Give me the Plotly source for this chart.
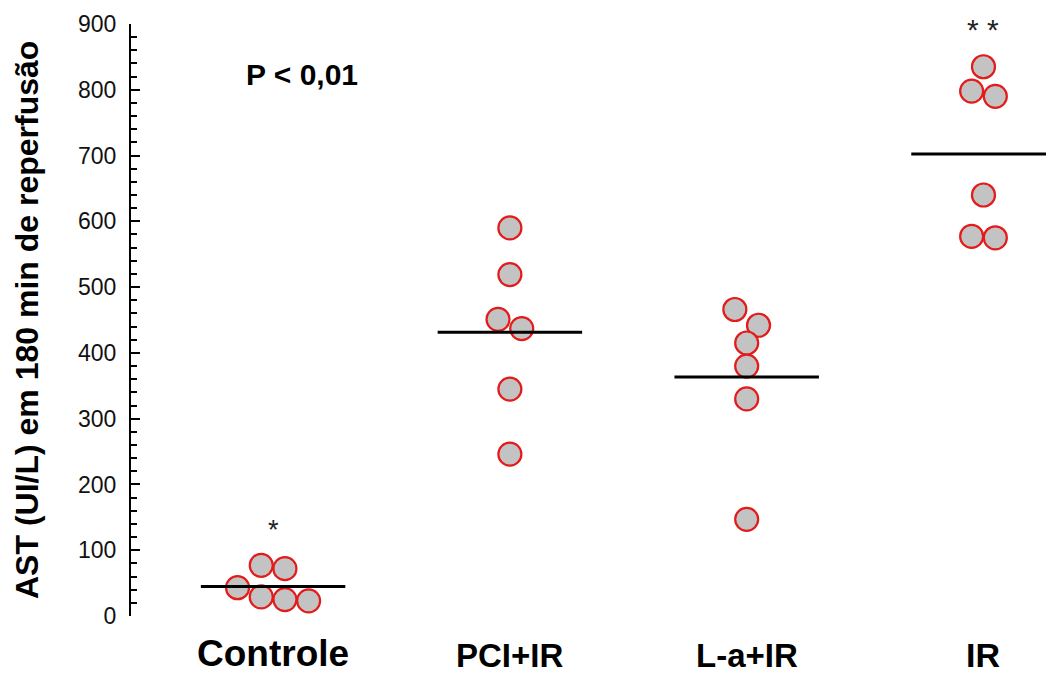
import numpy as np
import plotly.graph_objects as go

# Groups and serum AST values (UI/L) after 180 min of reperfusion
categories = ["Controle", "PCI+IR", "L-a+IR", "IR"]
controle = [43, 77, 72, 29, 25, 23]
pci_ir = [590, 519, 451, 437, 345, 246]
la_ir = [466, 442, 415, 380, 330, 147]
ir = [835, 798, 790, 640, 577, 575]
groups = [controle, pci_ir, la_ir, ir]

# Horizontal spread of overlapping points within each group (category units)
spread = [
    [-0.15, -0.05, 0.05, -0.05, 0.05, 0.15],
    [0, 0, -0.05, 0.05, 0, 0],
    [-0.05, 0.05, 0, 0, 0, 0],
    [0, -0.05, 0.05, 0, -0.05, 0.05],
]

# Significance marks per group
significance = ["*", "", "", "* *"]
p_text = "P < 0,01"
y_ticks = list(range(0, 901, 100))

FONT = "Liberation Sans, Arial, sans-serif"
POINT_FILL = "#c3c3c3"
POINT_EDGE = "#e31b1b"

fig = go.Figure()

for i, vals in enumerate(groups):
    xs = [i + d for d in spread[i]]
    fig.add_trace(go.Scatter(
        x=xs, y=vals, mode="markers",
        marker=dict(size=23, color=POINT_FILL,
                    line=dict(color=POINT_EDGE, width=2.2)),
        cliponaxis=False, showlegend=False, hoverinfo="y",
    ))

# Group means drawn as horizontal bars
for i, vals in enumerate(groups):
    m = float(np.mean(vals))
    fig.add_trace(go.Scatter(
        x=[i - 0.305, i + 0.305], y=[m, m], mode="lines",
        line=dict(color="black", width=3),
        showlegend=False, hoverinfo="y",
    ))

annotations = []

# Category labels under the axis (box bottom kept just inside the page)
label_sizes = [37, 33, 33, 34]
for i, name in enumerate(categories):
    annotations.append(dict(
        x=i, y=0, xref="x", yref="paper", text=f"<b>{name}</b>",
        showarrow=False, xanchor="center", yanchor="bottom",
        yshift=-60,
        font=dict(family=FONT, size=label_sizes[i], color="black"),
    ))

# Significance asterisks above groups
sig_y = [130, None, None, 892]
sig_size = [27, 0, 0, 30]
for i, s in enumerate(significance):
    if s:
        annotations.append(dict(
            x=i, y=sig_y[i], xref="x", yref="y", text=s,
            showarrow=False, xanchor="center", yanchor="middle",
            font=dict(family=FONT, size=sig_size[i], color="#222222"),
        ))

annotations.append(dict(
    x=0.121, y=823, xref="x", yref="y", text=f"<b>{p_text}</b>",
    showarrow=False, xanchor="center", yanchor="middle",
    font=dict(family=FONT, size=30, color="black"),
))

# Y axis title
annotations.append(dict(
    x=0, y=0.5, xref="paper", yref="paper",
    text="<b>AST (UI/L) em 180 min de reperfusão</b>",
    textangle=-90, showarrow=False, xanchor="center", yanchor="middle",
    xshift=-104,
    font=dict(family=FONT, size=32, color="black"),
))

fig.update_layout(
    width=1046, height=677,
    margin=dict(l=131, r=0, t=24, b=61),
    paper_bgcolor="white", plot_bgcolor="white",
    annotations=annotations,
    xaxis=dict(range=[-0.6, 3.264], showgrid=False, zeroline=False,
               showticklabels=False, ticks="", showline=False),
    yaxis=dict(range=[0, 900], tickvals=y_ticks,
               ticktext=[str(v) for v in y_ticks],
               showgrid=False, zeroline=False,
               showline=True, linecolor="black", linewidth=2,
               ticks="inside", ticklen=9, tickwidth=2, tickcolor="black",
               minor=dict(ticks="inside", dtick=20, ticklen=6,
                          tickwidth=1.5, tickcolor="black", showgrid=False),
               ticklabelstandoff=8,
               tickfont=dict(family=FONT, size=23, color="#111111")),
)

fig.write_html("out.html")
